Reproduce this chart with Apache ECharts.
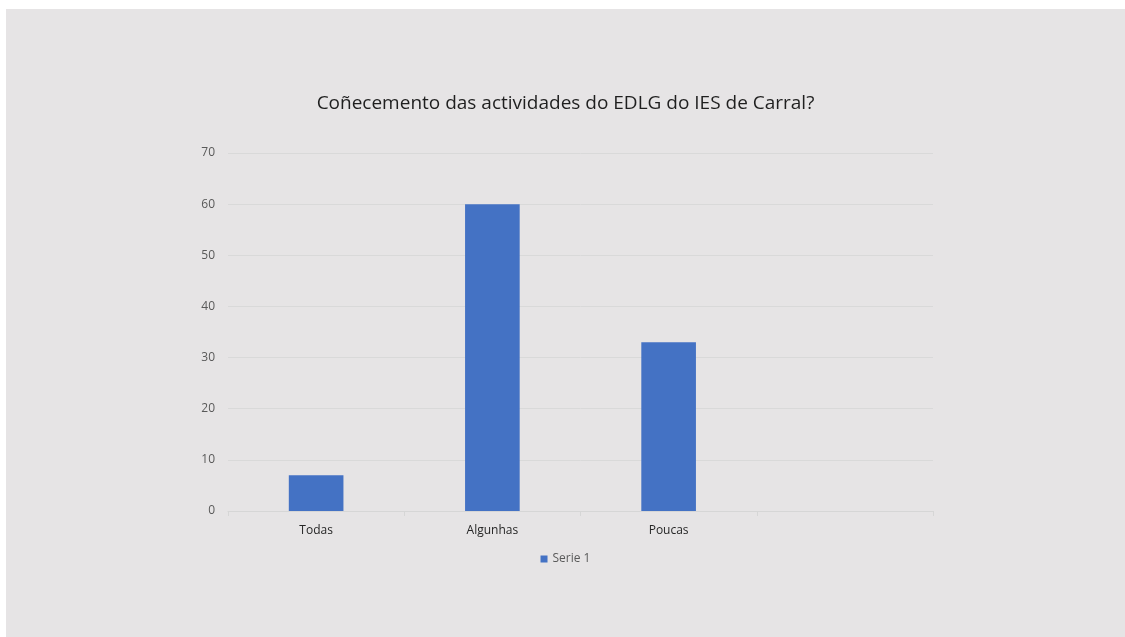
<!DOCTYPE html>
<html>
<head>
<meta charset="utf-8">
<script src="https://cdn.jsdelivr.net/npm/echarts@6/dist/echarts.min.js"></script>
<style>
html, body { margin: 0; padding: 0; background: #ffffff; }
#myChart {
    position: absolute;
    left: 6px;
    top: 9px;
    width: 1119px;
    height: 628px;
    background: #e6e4e5;
}
</style>
</head>
<body>
<div id="myChart"></div>
<script>
// dados
let categories = ['Todas', 'Algunhas', 'Poucas', '']
let serie1 = [7, 60, 33, null]
let yTicks = [0, 10, 20, 30, 40, 50, 60, 70]

let myChart = echarts.init(document.getElementById('myChart'))

let option = {
    title: {
        text: 'Coñecemento das actividades do EDLG do IES de Carral?',
        left: 'center',
        top: 80,
        textStyle: {
            color: '#1f1f1f',
            fontSize: 19,
            fontWeight: 'normal',
            fontFamily: 'Open Sans'
        }
    },
    legend: {
        data: ['Serie 1'],
        left: 'center',
        top: 539,
        icon: 'rect',
        itemWidth: 7,
        itemHeight: 7,
        itemGap: 4,
        textStyle: {
            color: '#595959',
            fontSize: 12,
            fontFamily: 'Open Sans'
        }
    },
    grid: {
        left: 222,
        right: 192,
        top: 144,
        bottom: 126
    },
    xAxis: {
        type: 'category',
        data: categories,
        axisLine: { lineStyle: { color: '#d6d6d6' } },
        axisTick: { show: true, length: 5, lineStyle: { color: '#d6d6d6' } },
        axisLabel: {
            color: '#262626',
            fontSize: 12,
            margin: 14,
            fontFamily: 'Open Sans'
        }
    },
    yAxis: {
        type: 'value',
        min: yTicks[0],
        max: yTicks[yTicks.length - 1],
        interval: 10,
        axisLine: { show: false },
        axisTick: { show: false },
        axisLabel: {
            color: '#595959',
            fontSize: 12,
            margin: 13,
            fontFamily: 'Open Sans'
        },
        splitLine: { lineStyle: { color: '#d9d9d9' } }
    },
    series: [
        {
            name: 'Serie 1',
            type: 'bar',
            data: serie1,
            barWidth: '31%',
            itemStyle: { color: '#4472c4' }
        }
    ]
}
myChart.setOption(option)
</script>
</body>
</html>
